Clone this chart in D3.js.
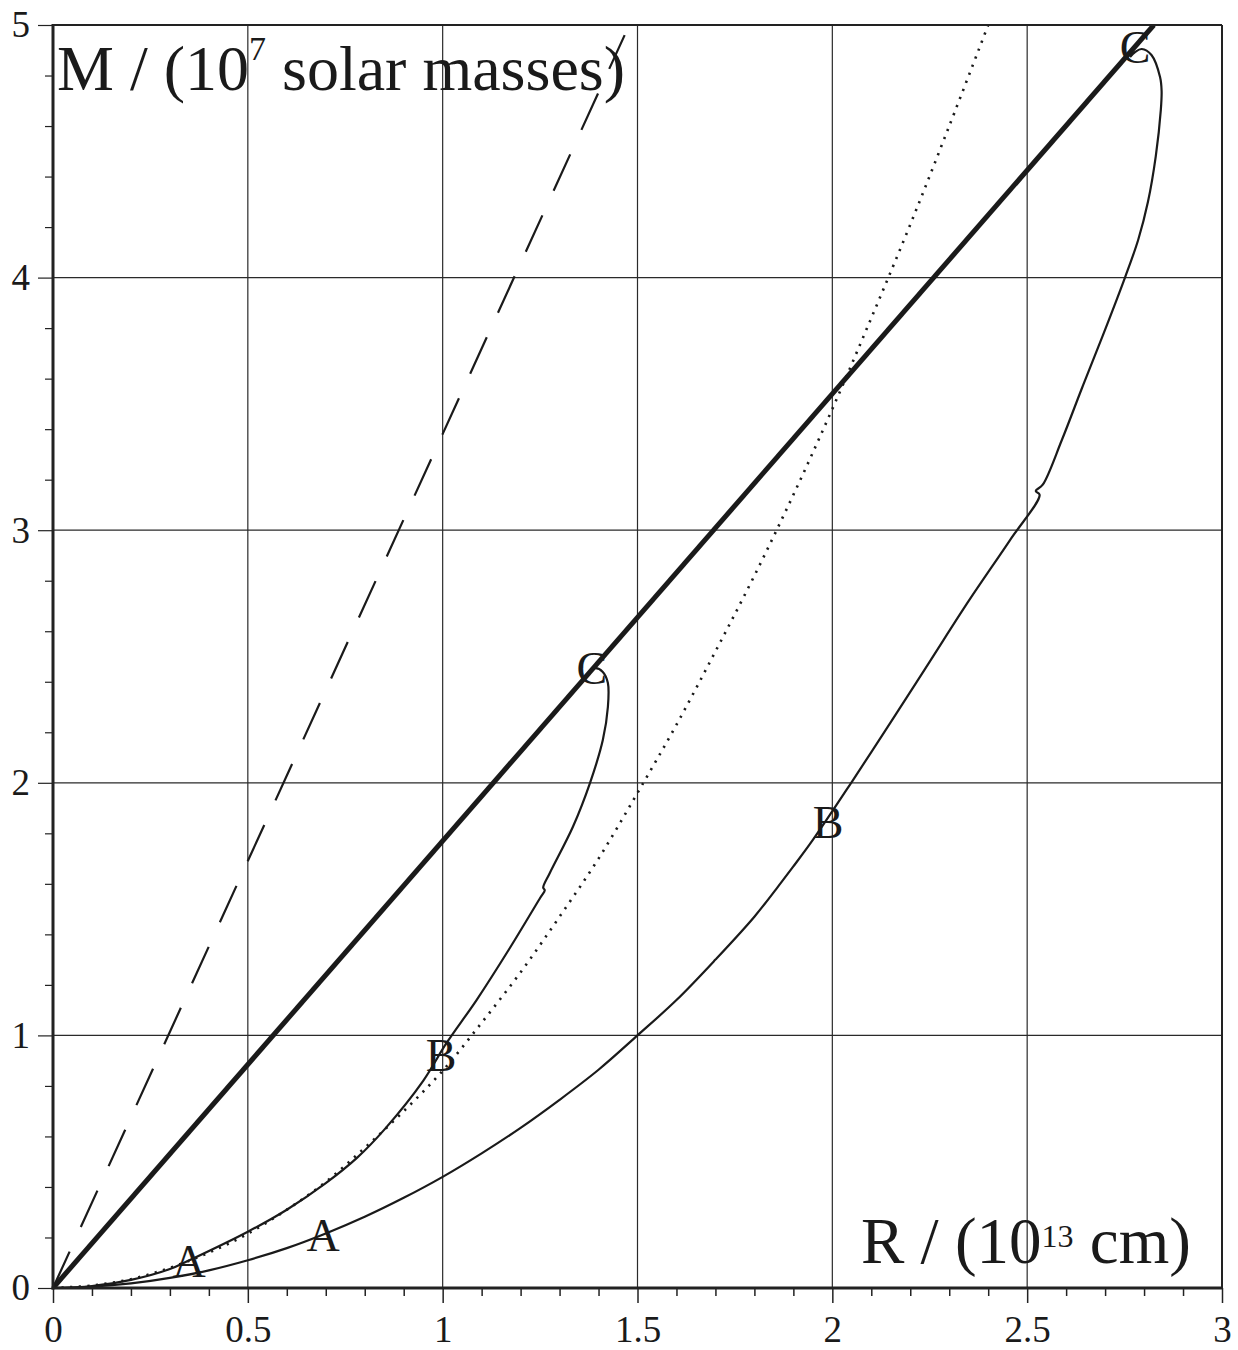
<!DOCTYPE html>
<html>
<head>
<meta charset="utf-8">
<script src="https://cdn.jsdelivr.net/npm/d3@7"></script>
<style>
  html, body { margin: 0; padding: 0; background: #fff; }
  svg { display: block; }
  text { font-family: "Liberation Serif", "Times New Roman", serif; fill: #1a1a1a; }
</style>
</head>
<body>
<svg id="chart" width="1238" height="1350"></svg>
<script>
// ---------- data ----------
const xMajorTicks = [0, 0.5, 1, 1.5, 2, 2.5, 3];
const xTickLabels = ["0", "0.5", "1", "1.5", "2", "2.5", "3"];
const yMajorTicks = [0, 1, 2, 3, 4, 5];
const yTickLabels = ["0", "1", "2", "3", "4", "5"];

// thick straight line
const thickR = [0, 2.825];
const thickM = [0, 5];

// dashed straight line
const dashR = [0, 1.467];
const dashM = [0, 4.96];

// dotted curve
const dotR = [0, 0.1, 0.2, 0.3, 0.4, 0.5, 0.6, 0.7, 0.8, 0.9, 1.0, 1.1, 1.2, 1.3, 1.4, 1.5, 1.6, 1.7, 1.8, 1.9, 2.0, 2.1, 2.2, 2.3, 2.4];
const dotM = [0, 0.01, 0.035, 0.08, 0.14, 0.215, 0.31, 0.42, 0.555, 0.70, 0.86, 1.05, 1.25, 1.47, 1.70, 1.96, 2.23, 2.52, 2.82, 3.14, 3.48, 3.84, 4.21, 4.60, 5.0];

// small loop curve (A - B - C)
const smallR = [0, 0.1, 0.2, 0.3, 0.35, 0.5, 0.6, 0.7, 0.78, 0.852, 0.95, 1.01, 1.087, 1.17, 1.25, 1.262, 1.258, 1.275, 1.334, 1.378, 1.411, 1.424, 1.424, 1.411, 1.391, 1.378, 1.370];
const smallM = [0, 0.008, 0.032, 0.075, 0.11, 0.223, 0.31, 0.415, 0.515, 0.63, 0.82, 0.97, 1.14, 1.34, 1.544, 1.575, 1.585, 1.643, 1.825, 1.999, 2.169, 2.300, 2.395, 2.439, 2.454, 2.44, 2.419];

// large loop curve (A - B - C)
const largeR = [0, 0.1, 0.2, 0.3, 0.4, 0.5, 0.6, 0.7, 0.8, 0.9, 1.0, 1.1, 1.2, 1.3, 1.4, 1.5, 1.6, 1.7, 1.8, 1.866, 1.899, 1.95, 2.053, 2.15, 2.25, 2.35, 2.456, 2.532, 2.522, 2.54, 2.589, 2.64, 2.694, 2.751, 2.785, 2.81, 2.83, 2.843, 2.845, 2.841, 2.819, 2.794, 2.777, 2.764];
const largeM = [0, 0.005, 0.018, 0.04, 0.07, 0.11, 0.158, 0.216, 0.282, 0.357, 0.44, 0.533, 0.634, 0.745, 0.864, 1.0, 1.14, 1.30, 1.47, 1.60, 1.667, 1.774, 2.011, 2.24, 2.48, 2.72, 2.961, 3.14, 3.155, 3.18, 3.357, 3.56, 3.77, 4.0, 4.15, 4.30, 4.48, 4.664, 4.74, 4.794, 4.881, 4.905, 4.893, 4.873];

// point labels
const labelText = ["A", "A", "B", "B", "C", "C"];
const labelR = [0.349, 0.693, 0.996, 1.989, 1.383, 2.777];
const labelM = [0.103, 0.206, 0.922, 1.841, 2.454, 4.909];

// ---------- chart ----------
(function () {
const pLeft = 53, pRight = 1222, pTop = 25, pBottom = 1288;
const svg = d3.select("#chart");

const x = d3.scaleLinear().domain([0, 3]).range([pLeft, pRight]);
const y = d3.scaleLinear().domain([0, 5]).range([pBottom, pTop]);

const zip = (a, b) => a.map((v, i) => [v, b[i]]);

// grid
const g = svg.append("g");
g.selectAll("line.vg").data([0.5, 1, 1.5, 2, 2.5]).join("line")
  .attr("x1", d => x(d)).attr("x2", d => x(d))
  .attr("y1", pTop).attr("y2", pBottom)
  .attr("stroke", "#2a2a2a").attr("stroke-width", 1.2);
g.selectAll("line.hg").data([1, 2, 3, 4]).join("line")
  .attr("x1", pLeft).attr("x2", pRight)
  .attr("y1", d => y(d)).attr("y2", d => y(d))
  .attr("stroke", "#2a2a2a").attr("stroke-width", 1.2);

// minor ticks
const xMinor = d3.range(0, 31).map(i => i / 10).filter(v => Math.abs(v * 2 - Math.round(v * 2)) > 1e-6);
const yMinor = d3.range(0, 26).map(i => i / 5).filter(v => Math.abs(v - Math.round(v)) > 1e-6);

const xAxisMinor = d3.axisBottom(x).tickValues(xMinor).tickSize(8).tickFormat("");
const yAxisMinor = d3.axisLeft(y).tickValues(yMinor).tickSize(8).tickFormat("");
svg.append("g").attr("transform", `translate(0,${pBottom})`).call(xAxisMinor)
  .call(s => s.select(".domain").remove())
  .call(s => s.selectAll("line").attr("stroke", "#222").attr("stroke-width", 1.5));
svg.append("g").attr("transform", `translate(${pLeft},0)`).call(yAxisMinor)
  .call(s => s.select(".domain").remove())
  .call(s => s.selectAll("line").attr("stroke", "#222").attr("stroke-width", 1.2));

// major axes
const xAxis = d3.axisBottom(x).tickValues(xMajorTicks).tickSize(15).tickPadding(13)
  .tickFormat((d, i) => xTickLabels[i]);
const yAxis = d3.axisLeft(y).tickValues(yMajorTicks).tickSize(15).tickPadding(8)
  .tickFormat((d, i) => yTickLabels[i]);
svg.append("g").attr("transform", `translate(0,${pBottom})`).call(xAxis)
  .call(s => s.select(".domain").remove())
  .call(s => s.selectAll("line").attr("stroke", "#222").attr("stroke-width", 1.5))
  .call(s => s.selectAll("text").attr("font-family", "Liberation Serif").attr("font-size", 37).attr("fill", "#1a1a1a"));
svg.append("g").attr("transform", `translate(${pLeft},0)`).call(yAxis)
  .call(s => s.select(".domain").remove())
  .call(s => s.selectAll("line").attr("stroke", "#222").attr("stroke-width", 1.2))
  .call(s => s.selectAll("text").attr("font-family", "Liberation Serif").attr("font-size", 37).attr("fill", "#1a1a1a"));

// clip for data
svg.append("clipPath").attr("id", "plotclip").append("rect")
  .attr("x", pLeft).attr("y", pTop).attr("width", pRight - pLeft).attr("height", pBottom - pTop);
const plot = svg.append("g").attr("clip-path", "url(#plotclip)");

const lineStraight = d3.line().x(d => x(d[0])).y(d => y(d[1]));
const lineSmooth = d3.line().x(d => x(d[0])).y(d => y(d[1])).curve(d3.curveCatmullRom.alpha(0.5));

// dotted
plot.append("path").attr("d", lineSmooth(zip(dotR, dotM)))
  .attr("fill", "none").attr("stroke", "#1a1a1a").attr("stroke-width", 2.6)
  .attr("stroke-dasharray", "2.2,6.4");

// dashed
plot.append("path").attr("d", lineStraight(zip(dashR, dashM)))
  .attr("fill", "none").attr("stroke", "#1a1a1a").attr("stroke-width", 2.2)
  .attr("stroke-dasharray", "40,27");

// thick
plot.append("path").attr("d", lineStraight(zip(thickR, thickM)))
  .attr("fill", "none").attr("stroke", "#1a1a1a").attr("stroke-width", 5);

// curves
plot.append("path").attr("d", lineSmooth(zip(smallR, smallM)))
  .attr("fill", "none").attr("stroke", "#1a1a1a").attr("stroke-width", 2.2)
  .attr("stroke-linejoin", "round");
plot.append("path").attr("d", lineSmooth(zip(largeR, largeM)))
  .attr("fill", "none").attr("stroke", "#1a1a1a").attr("stroke-width", 2.2)
  .attr("stroke-linejoin", "round");

// frame
svg.append("line").attr("x1", pLeft).attr("x2", pRight).attr("y1", pTop).attr("y2", pTop)
  .attr("stroke", "#222").attr("stroke-width", 2);
svg.append("line").attr("x1", pRight).attr("x2", pRight).attr("y1", pTop).attr("y2", pBottom)
  .attr("stroke", "#222").attr("stroke-width", 2);
svg.append("line").attr("x1", pLeft).attr("x2", pLeft).attr("y1", pTop - 1).attr("y2", pBottom + 1.5)
  .attr("stroke", "#222").attr("stroke-width", 3);
svg.append("line").attr("x1", pLeft - 1.5).attr("x2", pRight + 1).attr("y1", pBottom).attr("y2", pBottom)
  .attr("stroke", "#222").attr("stroke-width", 3);

// point labels
svg.append("g").selectAll("text").data(labelText).join("text")
  .attr("x", (d, i) => x(labelR[i]))
  .attr("y", (d, i) => y(labelM[i]) + 15.5)
  .attr("text-anchor", "middle")
  .attr("font-size", 46)
  .text(d => d);

// axis titles
const tM = svg.append("text").attr("x", 57).attr("y", 90).attr("font-size", 64);
tM.append("tspan").text("M / (10");
tM.append("tspan").attr("font-size", 34).attr("dy", -30).text("7");
tM.append("tspan").attr("dy", 30).text(" solar masses)");

const tR = svg.append("text").attr("x", 861).attr("y", 1263).attr("font-size", 65);
tR.append("tspan").text("R / (10");
tR.append("tspan").attr("font-size", 32).attr("dy", -16).text("13");
tR.append("tspan").attr("dy", 16).text(" cm)");
})();
</script>
</body>
</html>
